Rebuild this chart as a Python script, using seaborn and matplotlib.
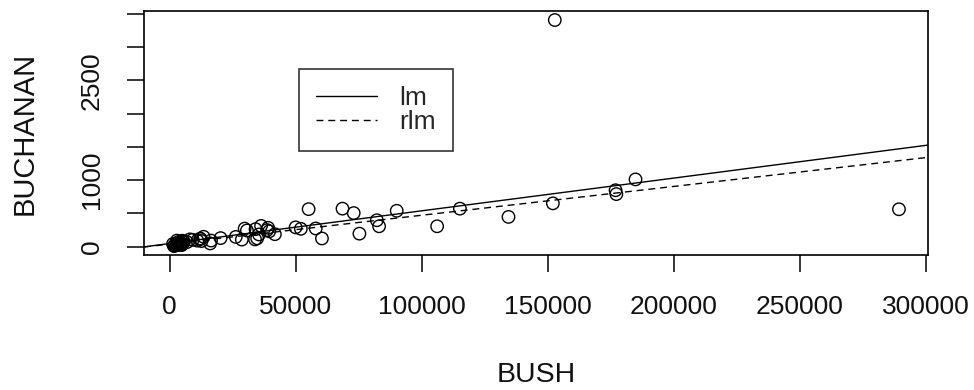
import numpy as np
import pandas as pd
import matplotlib
matplotlib.use("Agg")
import matplotlib.pyplot as plt
import seaborn as sns
from matplotlib.lines import Line2D

# Florida 2000 county votes
bush = [34062, 5610, 38637, 5413, 115185, 177279, 2873, 35419, 29744, 41745,
        60426, 10964, 289456, 4256, 2698, 152082, 73029, 12608, 2448, 4750,
        3300, 1840, 3546, 2153, 3764, 4743, 30646, 20196, 176967, 4985,
        28627, 9138, 2481, 1669, 49963, 106141, 39053, 6860, 1316, 3038,
        57948, 55135, 33864, 16059, 16404, 52043, 5058, 134476, 26216, 152846,
        68581, 184884, 90101, 13439, 39497, 34705, 36248, 83100, 75293, 12126,
        8014, 4051, 2326, 82214, 4511, 12176, 4983]
buchanan = [262, 73, 248, 65, 570, 789, 90, 182, 270, 186,
            122, 89, 561, 36, 29, 650, 504, 83, 33, 39,
            29, 9, 71, 24, 30, 22, 242, 127, 847, 76,
            105, 102, 29, 10, 289, 305, 282, 67, 39, 29,
            272, 563, 108, 47, 90, 267, 43, 446, 145, 3407,
            570, 1010, 538, 147, 229, 124, 311, 305, 194, 114,
            108, 27, 26, 396, 46, 120, 88]

xticks = [0, 50000, 100000, 150000, 200000, 250000, 300000]
xtick_labels = ["0", "50000", "100000", "150000", "200000", "250000", "300000"]
yticks = [0, 500, 1000, 1500, 2000, 2500, 3000, 3500]
ytick_labels = ["0", "", "1000", "", "", "2500", "", ""]
legend_labels = ["lm", "rlm"]

df = pd.DataFrame({"BUSH": bush, "BUCHANAN": buchanan})

# Fits: ordinary least squares (lm) and Huber M-estimate (rlm)
x = df["BUSH"].to_numpy(float)
y = df["BUCHANAN"].to_numpy(float)
X = np.column_stack([np.ones_like(x), x])
beta_lm = np.linalg.lstsq(X, y, rcond=None)[0]

beta = beta_lm.copy()
k = 1.345
for _ in range(200):
    r = y - X @ beta
    s = np.median(np.abs(r)) / 0.6745
    u = np.abs(r / s)
    w = np.where(u <= k, 1.0, k / np.maximum(u, 1e-12))
    sw = np.sqrt(w)
    new = np.linalg.lstsq(X * sw[:, None], y * sw, rcond=None)[0]
    if np.max(np.abs(new - beta)) < 1e-10:
        beta = new
        break
    beta = new
beta_rlm = beta

sns.set_style("ticks")
plt.rcParams["font.family"] = ["Liberation Sans", "DejaVu Sans"]

fig = plt.figure(figsize=(9.74, 3.90), dpi=100)
ax = fig.add_axes([144 / 974, 1 - 255 / 390, 784 / 974, 244 / 390])

sns.scatterplot(data=df, x="BUSH", y="BUCHANAN", ax=ax, marker="o",
                s=80, facecolor="none", edgecolor="black", linewidth=1.0,
                zorder=3)

dash = (0, (5, 3.5))
ax.axline((0, beta_lm[0]), slope=beta_lm[1], color="black", lw=1.0)
ax.axline((0, beta_rlm[0]), slope=beta_rlm[1], color="black", lw=1.0,
          linestyle=dash)

xr = x.max() - x.min()
yr = y.max() - y.min()
ax.set_xlim(x.min() - 0.04 * xr, x.max() + 0.04 * xr)
ax.set_ylim(y.min() - 0.04 * yr, y.max() + 0.04 * yr)

fs = 19
txt = "#111111"
ax.set_xticks(xticks)
ax.set_xticklabels(xtick_labels, fontsize=fs, color=txt)
ax.set_yticks(yticks)
ax.set_yticklabels(ytick_labels, fontsize=fs, color=txt,
                   rotation=90, va="center")
ax.tick_params(axis="both", direction="out", length=12, width=1.1,
               pad=17, color="black")

for sp in ax.spines.values():
    sp.set_visible(True)
    sp.set_color("black")
    sp.set_linewidth(1.2)

ax.set_xlabel("BUSH", fontsize=20.5, color=txt)
ax.set_ylabel("BUCHANAN", fontsize=21, color=txt)
ax.xaxis.set_label_coords(0.5, -0.49)
ax.xaxis.label.set_va("center")
ax.yaxis.set_label_coords(-0.152, 0.5)
ax.yaxis.label.set_va("center")

handles = [Line2D([], [], color="black", lw=1.0),
           Line2D([], [], color="black", lw=1.0, linestyle=dash)]
leg = ax.legend(handles, legend_labels, loc="upper left",
                bbox_to_anchor=((299 - 144) / 784, 1 - (69 - 11) / 244),
                borderaxespad=0, fontsize=fs, frameon=True, fancybox=False,
                handlelength=2.3, handletextpad=0.85, borderpad=0.65,
                labelspacing=0.0)
leg.get_frame().set_edgecolor("black")
leg.get_frame().set_linewidth(1.2)

fig.savefig("out.png", dpi=100)
